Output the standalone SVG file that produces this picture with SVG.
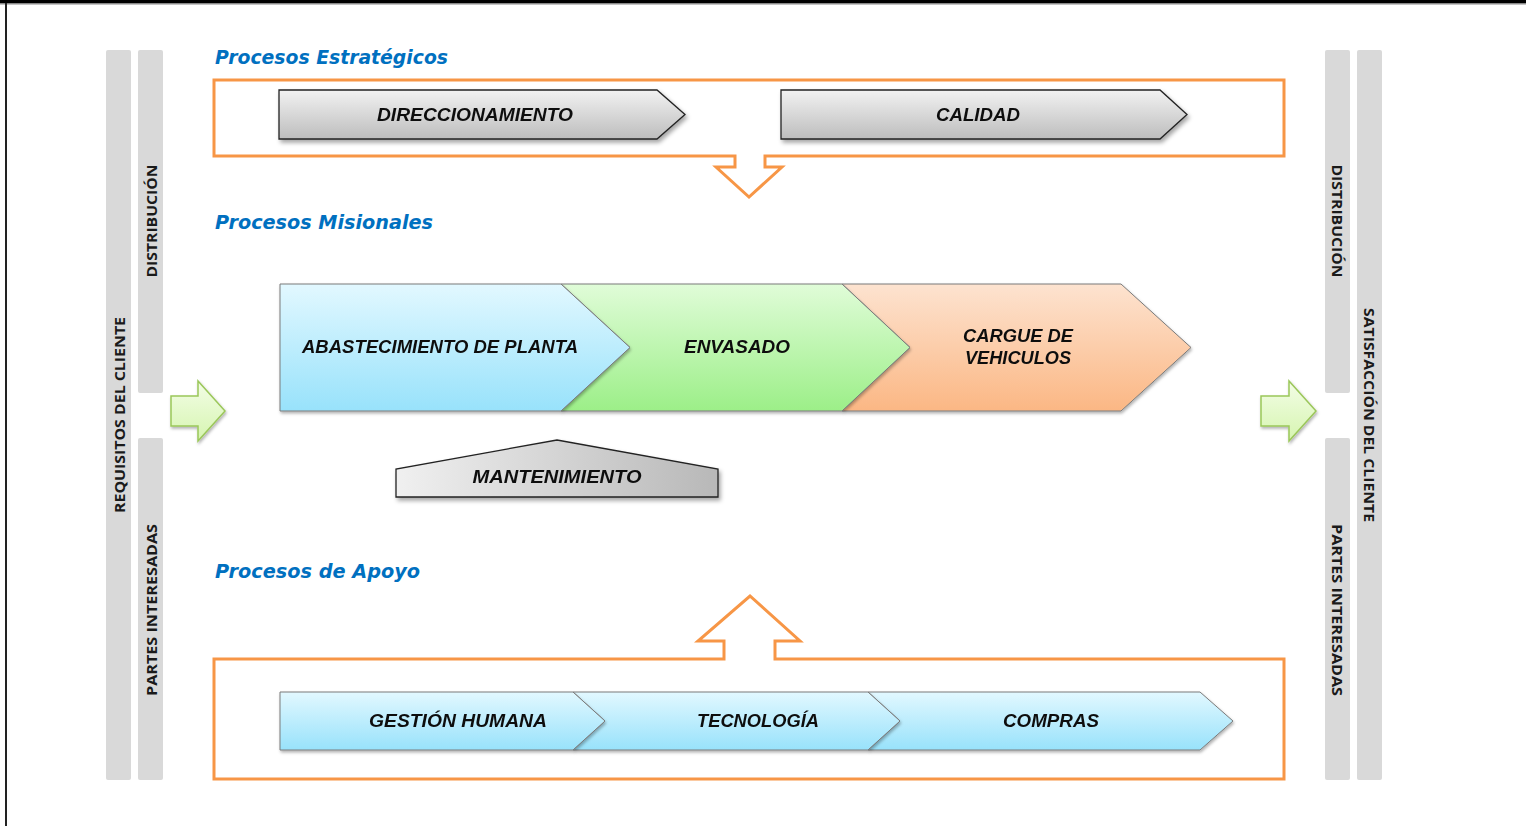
<svg xmlns="http://www.w3.org/2000/svg" width="1526" height="826" viewBox="0 0 1526 826">
  <defs>
    <linearGradient id="gGray" x1="0" y1="0" x2="0" y2="1">
      <stop offset="0" stop-color="#f2f2f2"/>
      <stop offset="1" stop-color="#bdbdbd"/>
    </linearGradient>
    <linearGradient id="gGrayH" x1="0" y1="0" x2="1" y2="0">
      <stop offset="0" stop-color="#f0f0f0"/>
      <stop offset="1" stop-color="#b8b8b8"/>
    </linearGradient>
    <linearGradient id="gBlue" x1="0" y1="0" x2="0" y2="1">
      <stop offset="0" stop-color="#e2f8ff"/>
      <stop offset="1" stop-color="#98e2fb"/>
    </linearGradient>
    <linearGradient id="gGreen" x1="0" y1="0" x2="0" y2="1">
      <stop offset="0" stop-color="#e0fcd8"/>
      <stop offset="1" stop-color="#9cef88"/>
    </linearGradient>
    <linearGradient id="gOrange" x1="0" y1="0" x2="0" y2="1">
      <stop offset="0" stop-color="#fde3d0"/>
      <stop offset="1" stop-color="#fbb784"/>
    </linearGradient>
    <linearGradient id="gLime" x1="0" y1="0" x2="0" y2="1">
      <stop offset="0" stop-color="#f3fde6"/>
      <stop offset="1" stop-color="#d6f5b0"/>
    </linearGradient>
    <filter id="shadow" x="-5%" y="-10%" width="115%" height="135%">
      <feDropShadow dx="2" dy="3" stdDeviation="2" flood-color="#000" flood-opacity="0.35"/>
    </filter>
    <filter id="softShadow" x="-10%" y="-10%" width="130%" height="130%">
      <feDropShadow dx="1" dy="2" stdDeviation="1.5" flood-color="#000" flood-opacity="0.3"/>
    </filter>
  </defs>
  <style>
    .bar { fill: #d9d9d9; }
    .side { font-family: "Open Sans", "Liberation Sans", sans-serif; font-weight: 700; font-size: 15px; fill: #1a1a1a; text-anchor: middle; }
    .title { font-family: "DejaVu Sans", "Liberation Sans", sans-serif; font-weight: 700; font-style: italic; font-size: 19px; fill: #0070c0; }
    .lbl { font-family: "Liberation Sans", "Open Sans", sans-serif; font-weight: 700; font-style: italic; font-size: 18px; fill: #111; text-anchor: middle; }
    .frame { fill: none; stroke: #f79646; stroke-width: 3; }
    .chev { stroke: #222; stroke-width: 1.3; }
    .soft { stroke: #7a7a7a; stroke-width: 1; }
    .green { fill: url(#gLime); stroke: #9bc75a; stroke-width: 1.5; }
  </style>

  <rect width="1526" height="826" fill="#ffffff"/>
  <!-- page border -->
  <rect x="0" y="0" width="1526" height="3" fill="#000"/>
  <rect x="0" y="3" width="1526" height="1.5" fill="#888"/>
  <rect x="5" y="3" width="2" height="823" fill="#222"/>

  <!-- left side bars -->
  <g id="left-bars">
    <rect class="bar" x="106" y="50" width="25" height="730" rx="2"/>
    <rect class="bar" x="138" y="50" width="25" height="343" rx="2"/>
    <rect class="bar" x="138" y="438" width="25" height="342" rx="2"/>
    <text class="side" transform="translate(124.5,415) rotate(-90)" textLength="196" lengthAdjust="spacingAndGlyphs">REQUISITOS DEL CLIENTE</text>
    <text class="side" transform="translate(156.5,221) rotate(-90)" textLength="113" lengthAdjust="spacingAndGlyphs">DISTRIBUCIÓN</text>
    <text class="side" transform="translate(156.5,610) rotate(-90)" textLength="172" lengthAdjust="spacingAndGlyphs">PARTES INTERESADAS</text>
  </g>

  <!-- right side bars -->
  <g id="right-bars">
    <rect class="bar" x="1325" y="50" width="25" height="343" rx="2"/>
    <rect class="bar" x="1325" y="438" width="25" height="342" rx="2"/>
    <rect class="bar" x="1357" y="50" width="25" height="730" rx="2"/>
    <text class="side" transform="translate(1331.5,221) rotate(90)" textLength="113" lengthAdjust="spacingAndGlyphs">DISTRIBUCIÓN</text>
    <text class="side" transform="translate(1331.5,610) rotate(90)" textLength="172" lengthAdjust="spacingAndGlyphs">PARTES INTERESADAS</text>
    <text class="side" transform="translate(1363.5,415) rotate(90)" textLength="214" lengthAdjust="spacingAndGlyphs">SATISFACCIÓN DEL CLIENTE</text>
  </g>

  <!-- section titles -->
  <text class="title" x="215" y="64" textLength="233" lengthAdjust="spacingAndGlyphs">Procesos Estratégicos</text>
  <text class="title" x="215" y="229" textLength="218" lengthAdjust="spacingAndGlyphs">Procesos Misionales</text>
  <text class="title" x="215" y="578" textLength="205" lengthAdjust="spacingAndGlyphs">Procesos de Apoyo</text>

  <!-- strategic frame with downward arrow -->
  <g id="frame-strategic">
    <path class="frame" d="M735,156 L214,156 L214,80 L1284,80 L1284,156 L765,156 L765,167 L782,167 L749,197 L716,167 L735,167 Z"/>
  </g>

  <!-- support frame with upward arrow -->
  <g id="frame-support">
    <path class="frame" d="M724,659 L214,659 L214,779 L1284,779 L1284,659 L775,659 L775,641 L800,641 L750,596 L698,641 L724,641 Z"/>
  </g>

  <!-- strategic processes -->
  <g id="direccionamiento" filter="url(#shadow)">
    <path class="chev" fill="url(#gGray)" d="M279,90 L657,90 L685,114.5 L657,139 L279,139 Z"/>
    <text class="lbl" x="475" y="121" textLength="196" lengthAdjust="spacingAndGlyphs">DIRECCIONAMIENTO</text>
  </g>
  <g id="calidad" filter="url(#shadow)">
    <path class="chev" fill="url(#gGray)" d="M781,90 L1160,90 L1187,114.5 L1160,139 L781,139 Z"/>
    <text class="lbl" x="978" y="121" textLength="84" lengthAdjust="spacingAndGlyphs">CALIDAD</text>
  </g>

  <!-- missional processes -->
  <g id="cargue" filter="url(#softShadow)">
    <path class="soft" fill="url(#gOrange)" d="M842,284 L1121,284 L1191,347.5 L1121,411 L842,411 L910,347.5 Z"/>
    <text class="lbl" x="1018" y="342" textLength="110" lengthAdjust="spacingAndGlyphs">CARGUE DE</text>
    <text class="lbl" x="1018" y="364" textLength="106" lengthAdjust="spacingAndGlyphs">VEHICULOS</text>
  </g>
  <g id="envasado" filter="url(#softShadow)">
    <path class="soft" fill="url(#gGreen)" d="M561,284 L842,284 L910,347.5 L842,411 L561,411 L630,347.5 Z"/>
    <text class="lbl" x="737" y="353" textLength="106" lengthAdjust="spacingAndGlyphs">ENVASADO</text>
  </g>
  <g id="abastecimiento" filter="url(#softShadow)">
    <path class="soft" fill="url(#gBlue)" d="M280,284 L561,284 L630,347.5 L561,411 L280,411 Z"/>
    <text class="lbl" x="440" y="353" textLength="276" lengthAdjust="spacingAndGlyphs">ABASTECIMIENTO DE PLANTA</text>
  </g>

  <!-- maintenance -->
  <g id="mantenimiento" filter="url(#shadow)">
    <path class="chev" fill="url(#gGrayH)" d="M396,497 L396,469 L557,440 L718,469 L718,497 Z"/>
    <text class="lbl" x="557" y="483" textLength="169" lengthAdjust="spacingAndGlyphs">MANTENIMIENTO</text>
  </g>

  <!-- support processes -->
  <g id="compras" filter="url(#softShadow)">
    <path class="soft" fill="url(#gBlue)" d="M868,692 L1200,692 L1233,721 L1200,750 L868,750 L900,721 Z"/>
    <text class="lbl" x="1051" y="727" textLength="96" lengthAdjust="spacingAndGlyphs">COMPRAS</text>
  </g>
  <g id="tecnologia" filter="url(#softShadow)">
    <path class="soft" fill="url(#gBlue)" d="M573,692 L868,692 L900,721 L868,750 L573,750 L605,721 Z"/>
    <text class="lbl" x="758" y="727" textLength="122" lengthAdjust="spacingAndGlyphs">TECNOLOGÍA</text>
  </g>
  <g id="gestion-humana" filter="url(#softShadow)">
    <path class="soft" fill="url(#gBlue)" d="M280,692 L573,692 L605,721 L573,750 L280,750 Z"/>
    <text class="lbl" x="458" y="727" textLength="178" lengthAdjust="spacingAndGlyphs">GESTIÓN HUMANA</text>
  </g>

  <!-- input / output arrows -->
  <g id="arrow-in" filter="url(#softShadow)">
    <path class="green" d="M171,396 L198,396 L198,381 L225,411 L198,441 L198,426 L171,426 Z"/>
  </g>
  <g id="arrow-out" filter="url(#softShadow)">
    <path class="green" d="M1261,396 L1289,396 L1289,381 L1316,411 L1289,441 L1289,426 L1261,426 Z"/>
  </g>
</svg>
